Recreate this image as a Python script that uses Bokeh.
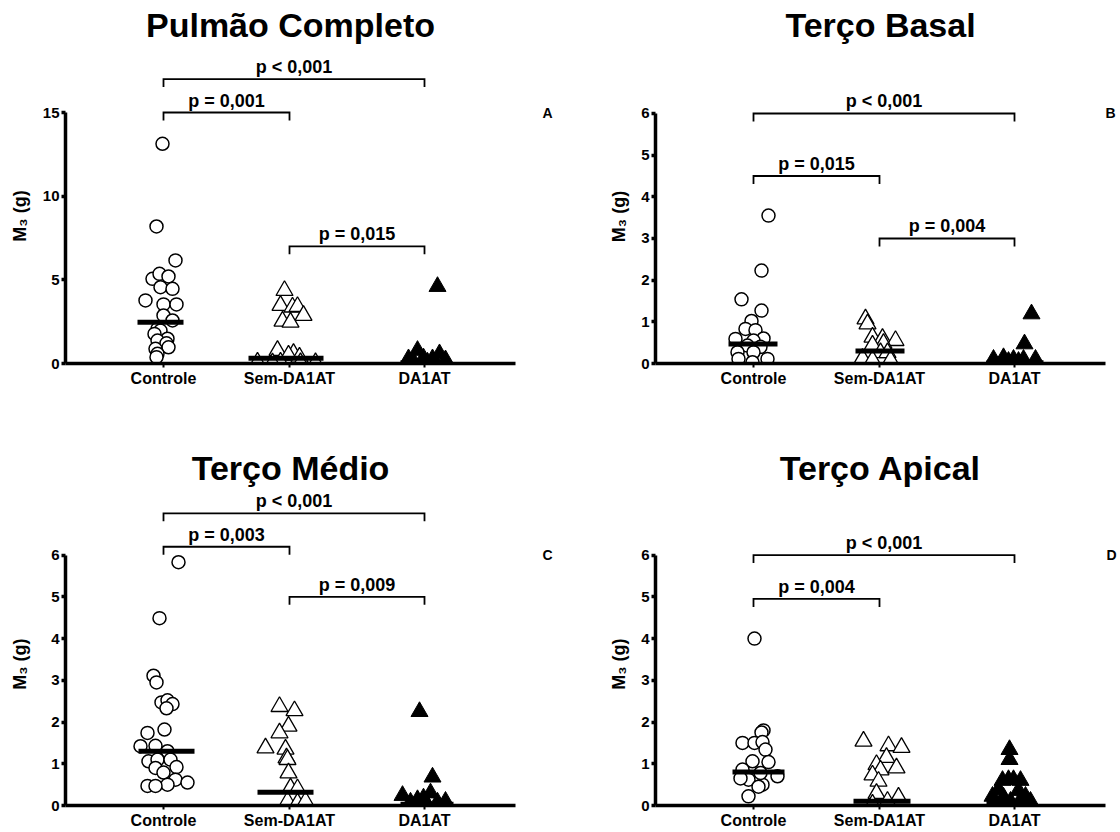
import math
from bokeh.plotting import figure
from bokeh.models import Range1d, FixedTicker, Label
from bokeh.layouts import column, row
from bokeh.embed import file_html
from bokeh.resources import INLINE

FONT = "Liberation Sans"

group_names = ["Controle", "Sem-DA1AT", "DA1AT"]
group_x = [0.98, 2.24, 3.59]
y_label_text = "M₃ (g)"

# ---- Pulmão Completo (A)
A_controle = [13.13, 8.19, 6.16, 5.06, 5.36, 5.2, 4.56, 4.46, 3.77, 3.53, 3.53, 2.87, 2.57, 2.07, 1.97, 1.77, 1.48, 1.37, 1.21, 0.97, 0.88, 0.58, 0.38]
A_controle_dx = [-1, -7, 12, -11, -4, 5, -3, 9, -18, 0, 13, 0, 9, -6, -3, -9, 4, -6, 3, 5, -8, -6, -7]
A_sem = [4.36, 3.47, 3.37, 3.4, 2.87, 2.53, 2.47, 0.78, 0.6, 0.5, 0.38, 0.08, 0.08, 0.05, 0.05, 0.03]
A_sem_dx = [-5, -9, 3, 8, 14, -7, 1, -12, 4, -1, 10, -32, -9, 11, 26, -17]
A_da1at = [4.6, 0.78, 0.58, 0.28, 0.33, 0.28, 0.22, 0.12, 0.08, 0.06]
A_da1at_dx = [13, -7, 15, -16, -1, 8, 21, -11, 3, 11]
A_med = [2.47, 0.32, 0.05]

# ---- Terço Basal (B)
B_controle = [3.55, 2.23, 1.54, 1.27, 1.02, 0.83, 0.8, 0.59, 0.6, 0.55, 0.43, 0.4, 0.27, 0.27, 0.11, 0.11, 0.03]
B_controle_dx = [15, 8, -12, 8, -2, -8, 2, -18, 10, 0, -6, 7, -16, 0, 14, -15, -1]
B_sem = [1.07, 0.95, 0.63, 0.6, 0.55, 0.48, 0.44, 0.26, 0.26, 0.12, 0.08, 0.08]
B_sem_dx = [-14, -12, -7, 3, 16, 4, -7, 1, 8, -17, -7, 11]
B_da1at = [1.19, 0.47, 0.1, 0.14, 0.1, 0.1, 0.1, 0.05, 0.05]
B_da1at_dx = [17, 10, -21, -11, -1, 9, 21, -6, 4]
B_med = [0.47, 0.3, 0.02]

# ---- Terço Médio (C)
C_controle = [5.83, 4.49, 3.11, 2.95, 2.47, 2.52, 2.43, 2.33, 1.82, 1.74, 1.42, 1.43, 1.3, 1.06, 1.1, 1.1, 0.9, 0.92, 0.79, 0.62, 0.55, 0.5, 0.47, 0.47]
C_controle_dx = [15, -4, -10, -7, -2, 4, 9, 3, 1, -16, -23, -8, 4, -15, -6, 7, -8, 13, 0, 12, 24, 4, -16, -8]
C_sem = [2.37, 2.27, 1.9, 1.74, 1.38, 1.35, 1.14, 1.1, 0.78, 0.42, 0.4, 0.1, 0.06, 0.1]
C_sem_dx = [-10, 5, -1, -10, -24, -4, -3, -2, -1, 1, 8, -2, 8, 16]
C_da1at = [2.25, 0.68, 0.24, 0.3, 0.1, 0.14, 0.18, 0.08, 0.08, 0.05]
C_da1at_dx = [-5, 8, -22, 6, 21, -7, -1, -14, 13, 2]
C_med = [1.3, 0.32, 0.03]

# ---- Terço Apical (D)
D_controle = [4.0, 1.8, 1.75, 1.5, 1.5, 1.52, 1.34, 1.06, 1.04, 0.86, 0.7, 0.62, 0.65, 0.5, 0.45, 0.22, 0.78]
D_controle_dx = [1, 10, 8, -11, 1, 9, 12, -1, 15, -11, 24, -5, -13, 9, 5, -5, 7]
D_sem = [1.54, 1.43, 1.39, 1.15, 0.9, 0.98, 0.85, 0.73, 0.58, 0.29, 0.2, 0.1, 0.03]
D_sem_dx = [-16, 9, 22, 7, 17, -3, 1, -7, -1, -3, 19, 8, -7]
D_da1at = [1.34, 1.1, 0.62, 0.6, 0.6, 0.62, 0.38, 0.36, 0.22, 0.22, 0.2, 0.1, 0.05, 0.1]
D_da1at_dx = [-5, -5, -6, -12, 6, -1, -16, 4, -22, 11, -11, -4, 4, 16]
D_med = [0.8, 0.1, 0.05]

# significance brackets: (group i, group j, height, text)
A_brackets = [(0, 2, 17, "p < 0,001"), (0, 1, 15, "p = 0,001"), (1, 2, 7, "p = 0,015")]
B_brackets = [(0, 2, 6, "p < 0,001"), (0, 1, 4.5, "p = 0,015"), (1, 2, 3, "p = 0,004")]
C_brackets = [(0, 2, 7, "p < 0,001"), (0, 1, 6.2, "p = 0,003"), (1, 2, 5, "p = 0,009")]
D_brackets = [(0, 2, 6, "p < 0,001"), (0, 1, 4.95, "p = 0,004")]

# median bar extents (px left/right of group centre)
A_medw = [(-26, 20), (-41, 34), (-24, 26)]
B_medw = [(-25, 24), (-24, 25), (-28, 29)]
C_medw = [(-25, 31), (-32, 24), (-24, 29)]
D_medw = [(-21, 31), (-26, 31), (-28, 21)]


def make_panel(title, title_y, letter, letter_x, groups, meds, medw, brackets,
               y_top, y_ticks, scale, frame_w, frame_h, left, bottom_b):
    p = figure(width=left + frame_w, height=frame_h + bottom_b,
               min_border_left=left, min_border_right=0,
               min_border_top=0, min_border_bottom=bottom_b,
               x_range=Range1d(0, frame_w / 100), y_range=Range1d(0, frame_h / scale),
               output_backend="svg", toolbar_location=None, tools="")
    p.outline_line_color = None
    p.grid.visible = False
    p.background_fill_color = "white"
    p.border_fill_color = "white"

    tick_len = 8 / scale
    text_lift = 12 / scale

    # title
    p.add_layout(Label(x=2.25, y=title_y, text=title, text_font=FONT,
                       text_font_size="34px", text_font_style="bold",
                       text_align="center", text_baseline="middle", text_color="black"))

    # points
    styles = [dict(marker="circle", size=13, fill_color="white", line_color="black", line_width=1.5),
              dict(marker="triangle", size=17, fill_color="white", line_color="black", line_width=1.3),
              dict(marker="triangle", size=17, fill_color="black", line_color="black", line_width=1.0)]
    for gi, (vals, dxs) in enumerate(groups):
        xs = [group_x[gi] + d / 100 for d in dxs]
        p.scatter(xs, vals, **styles[gi])

    # medians
    x0 = [group_x[i] + medw[i][0] / 100 for i in range(3)]
    x1 = [group_x[i] + medw[i][1] / 100 for i in range(3)]
    p.segment(x0, meds, x1, meds, line_width=5, line_color="black", line_cap="butt")

    # brackets
    bxs, bys = [], []
    for (i, j, h, txt) in brackets:
        xa, xb = group_x[i], group_x[j]
        bxs.append([xa, xa, xb, xb])
        bys.append([h - tick_len, h, h, h - tick_len])
        p.add_layout(Label(x=(xa + xb) / 2, y=h + text_lift, text=txt, text_font=FONT,
                           text_font_size="18px", text_font_style="bold",
                           text_align="center", text_baseline="middle",
                           text_color="black"))
    p.multi_line(bxs, bys, line_width=1.8, line_color="black", line_join="miter")

    p.add_layout(Label(x=letter_x, y=y_top, text=letter, text_font=FONT,
                       text_font_size="14px", text_font_style="bold",
                       text_align="center", text_baseline="middle", text_color="black"))

    # axes
    xa = p.xaxis[0]
    xa.ticker = FixedTicker(ticks=group_x)
    xa.major_label_overrides = {gx: nm for gx, nm in zip(group_x, group_names)}
    xa.bounds = (0, 4.5)
    xa.axis_line_width = 3.5
    xa.axis_line_color = "black"
    xa.major_tick_out = 4
    xa.major_tick_in = 0
    xa.major_tick_line_width = 2
    xa.minor_tick_line_color = None
    xa.major_label_standoff = 2
    xa.major_label_text_font = FONT
    xa.major_label_text_font_size = "16px"
    xa.major_label_text_font_style = "bold"
    xa.major_label_text_color = "black"

    ya = p.yaxis[0]
    ya.ticker = FixedTicker(ticks=y_ticks)
    ya.bounds = (0, y_top)
    ya.axis_line_width = 3.5
    ya.axis_line_color = "black"
    ya.major_tick_out = 4
    ya.major_tick_in = 0
    ya.major_tick_line_width = 3.5
    ya.minor_tick_line_color = None
    ya.major_label_standoff = 2
    ya.major_label_text_font = FONT
    ya.major_label_text_font_size = "15px"
    ya.major_label_text_font_style = "bold"
    ya.major_label_text_color = "black"
    return p


def make_ylabel(width, height, cx, cy):
    q = figure(width=width, height=height, min_border=0,
               x_range=Range1d(0, width), y_range=Range1d(height, 0),
               x_axis_location=None, y_axis_location=None,
               output_backend="svg", toolbar_location=None, tools="")
    q.outline_line_color = None
    q.grid.visible = False
    q.add_layout(Label(x=cx, y=cy, text=y_label_text, angle=math.pi / 2,
                       text_font=FONT, text_font_size="18px", text_font_style="bold",
                       text_align="center", text_baseline="middle", text_color="black"))
    return q


TOP_H, TOP_FRAME = 400, 363
BOT_H, BOT_FRAME = 431, 406

pA = make_panel("Pulmão Completo", 20.21, "A", 4.82,
                [(A_controle, A_controle_dx), (A_sem, A_sem_dx), (A_da1at, A_da1at_dx)],
                A_med, A_medw, A_brackets, 15, [0, 5, 10, 15],
                16.733, 491, TOP_FRAME, 30, TOP_H - TOP_FRAME)
pB = make_panel("Terço Basal", 8.117, "B", 4.55,
                [(B_controle, B_controle_dx), (B_sem, B_sem_dx), (B_da1at, B_da1at_dx)],
                B_med, B_medw, B_brackets, 6, [0, 1, 2, 3, 4, 5, 6],
                41.667, 462, TOP_FRAME, 22, TOP_H - TOP_FRAME)
pC = make_panel("Terço Médio", 8.085, "C", 4.82,
                [(C_controle, C_controle_dx), (C_sem, C_sem_dx), (C_da1at, C_da1at_dx)],
                C_med, C_medw, C_brackets, 6, [0, 1, 2, 3, 4, 5, 6],
                41.833, 491, BOT_FRAME, 30, BOT_H - BOT_FRAME)
pD = make_panel("Terço Apical", 8.085, "D", 4.56,
                [(D_controle, D_controle_dx), (D_sem, D_sem_dx), (D_da1at, D_da1at_dx)],
                D_med, D_medw, D_brackets, 6, [0, 1, 2, 3, 4, 5, 6],
                41.833, 462, BOT_FRAME, 22, BOT_H - BOT_FRAME)

yA = make_ylabel(35, TOP_H, 19, 237.5)
yB = make_ylabel(77, TOP_H, 62, 238)
yC = make_ylabel(35, BOT_H, 19, 280.5)
yD = make_ylabel(77, BOT_H, 62, 280.5)

layout = column(row(yA, pA, yB, pB), row(yC, pC, yD, pD))
open("out.html", "w").write(file_html(layout, INLINE))
